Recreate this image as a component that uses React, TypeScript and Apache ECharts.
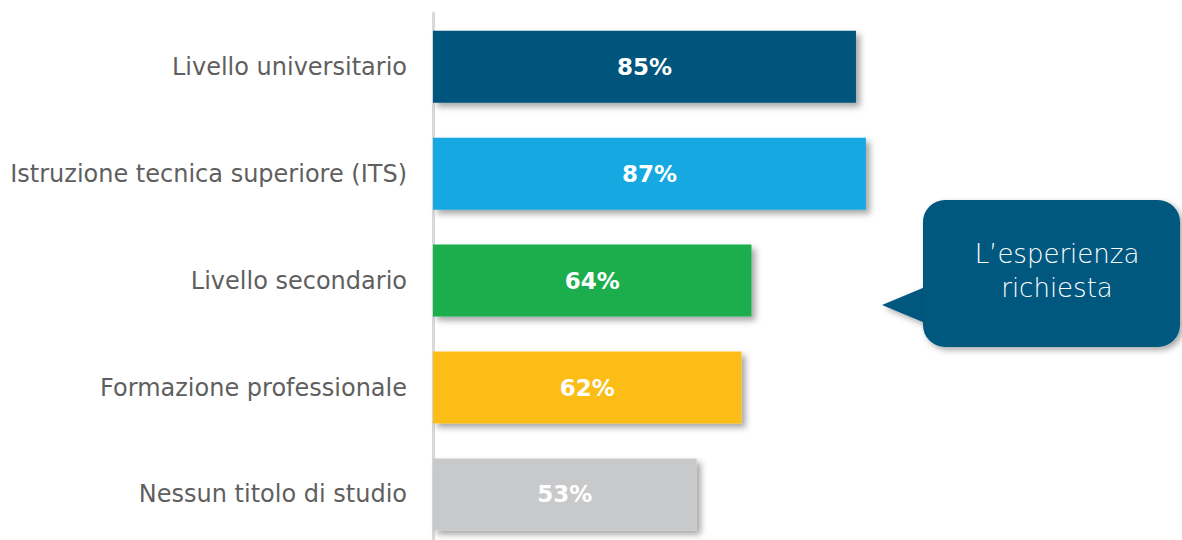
import React, { useEffect, useRef } from "react";
import * as echarts from "echarts";

const categories = [
  "Livello universitario",
  "Istruzione tecnica superiore (ITS)",
  "Livello secondario",
  "Formazione professionale",
  "Nessun titolo di studio",
];
const values = [85, 87, 64, 62, 53];
const barColors = ["#01547b", "#17a9e1", "#1aae4d", "#fbbd13", "#c8c9cb"];
const calloutLines = ["L\u2019esperienza", "richiesta"];

export default function App() {
  const ref = useRef<HTMLDivElement>(null);
  useEffect(() => {
    if (!ref.current) return;
    const chart = echarts.init(ref.current, undefined, { renderer: "svg" });
    const calloutColor = "#03587f";
    chart.setOption({
      animation: false,
      grid: { left: 433, top: 13.3, width: 497.6, height: 534.6, containLabel: false },
      xAxis: { type: "value", min: 0, max: 100, show: false },
      yAxis: {
        type: "category",
        data: categories,
        inverse: true,
        offset: 2,
        axisLine: { show: true, lineStyle: { color: "#d9d9d9", width: 3 } },
        axisTick: { show: false },
        axisLabel: {
          margin: 24,
          color: "#5f5f5f",
          fontSize: 24,
          fontFamily: "'DejaVu Sans', sans-serif",
        },
      },
      series: [
        {
          type: "bar",
          barCategoryGap: "32.7%",
          data: values.map((v, i) => ({
            value: v,
            itemStyle: { color: barColors[i] },
          })),
          itemStyle: {
            shadowBlur: 6,
            shadowOffsetX: 4,
            shadowOffsetY: 4,
            shadowColor: "rgba(0,0,0,0.35)",
          },
          label: {
            show: true,
            position: "inside",
            formatter: "{c}%",
            color: "#ffffff",
            fontSize: 23,
            fontWeight: "bold",
            fontFamily: "'DejaVu Sans', sans-serif",
          },
        },
      ],
      graphic: [
        {
          type: "polygon",
          z: 10,
          shape: { points: [[882, 305], [930, 285], [930, 325]] },
          style: {
            fill: calloutColor,
            shadowBlur: 6,
            shadowOffsetX: 3,
            shadowOffsetY: 3,
            shadowColor: "rgba(0,0,0,0.35)",
          },
        },
        {
          type: "rect",
          z: 11,
          shape: { x: 923, y: 200, width: 257, height: 147, r: 22 },
          style: {
            fill: calloutColor,
            shadowBlur: 6,
            shadowOffsetX: 3,
            shadowOffsetY: 3,
            shadowColor: "rgba(0,0,0,0.35)",
          },
        },
        ...calloutLines.map((t, i) => ({
          type: "text",
          z: 12,
          x: 1057,
          y: 254 + i * 34,
          style: {
            text: t,
            fill: "#ffffff",
            fontSize: 26,
            fontWeight: 200,
            fontFamily: "'DejaVu Sans', sans-serif",
            align: "center",
            verticalAlign: "middle",
          },
        })),
      ],
    });
    return () => chart.dispose();
  }, []);
  return (
    <div style={{ position: "absolute", left: 0, top: 0, width: 1182, height: 540, overflow: "hidden" }}>
      <div ref={ref} style={{ width: 1182, height: 560 }} />
    </div>
  );
}
